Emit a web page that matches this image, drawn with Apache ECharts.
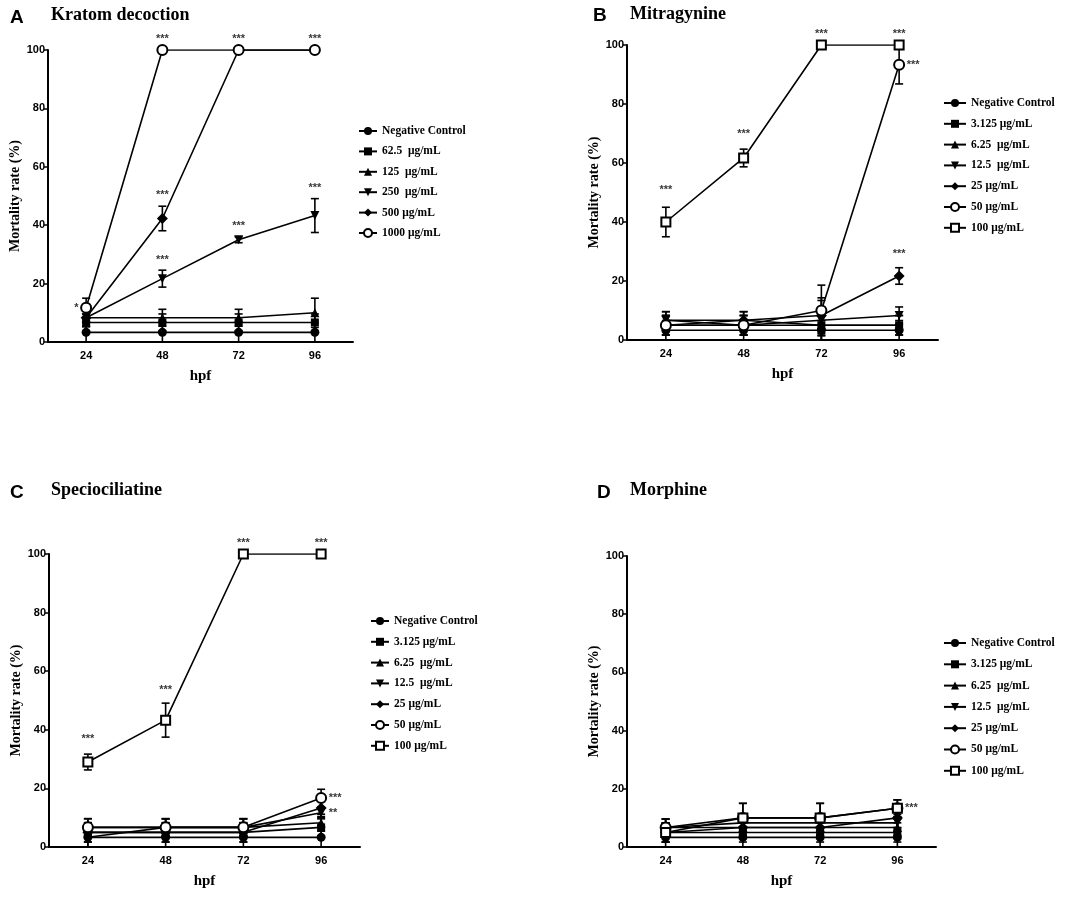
<!DOCTYPE html>
<html>
<head>
<meta charset="utf-8">
<script src="https://cdn.jsdelivr.net/npm/echarts@6/dist/echarts.min.js"></script>
<style>
html,body{margin:0;padding:0;background:#fff;}
#main{width:1065px;height:903px;}
</style>
</head>
<body>
<div id="main"></div>
<script>
var hours = ['24', '48', '72', '96'];
var yTicks = [0, 20, 40, 60, 80, 100];

// panel A - Kratom decoction
var namesA = ['Negative Control', '62.5  μg/mL', '125  μg/mL', '250  μg/mL', '500 μg/mL', '1000 μg/mL'];
var valsA = [
  [3.3, 3.3, 3.3, 3.3],
  [6.7, 6.7, 6.7, 6.7],
  [8.3, 8.3, 8.3, 10],
  [8.3, 21.7, 35, 43.3],
  [8.3, 42.3, 100, 100],
  [11.7, 100, 100, 100]
];
var errA = [
  [3.3, 3.3, 3.3, 3.3],
  [2.9, 2.9, 2.9, 2.9],
  [3, 2.9, 2.9, 5],
  [3, 2.9, 1, 5.8],
  [3, 4.2, 0, 0],
  [3.3, 0, 0, 0]
];
var starsA = [
  [0, 11.7, '*', 'left'], [1, 100, '***', 'top'], [2, 100, '***', 'top'], [3, 100, '***', 'top'],
  [1, 46.7, '***', 'top'], [1, 24.4, '***', 'top'], [2, 36, '***', 'top'], [3, 49, '***', 'top']
];

// panel B - Mitragynine
var namesB = ['Negative Control', '3.125 μg/mL', '6.25  μg/mL', '12.5  μg/mL', '25 μg/mL', '50 μg/mL', '100 μg/mL'];
var valsB = [
  [3.3, 3.3, 3.3, 3.3],
  [5, 5, 5, 5],
  [6.7, 6.7, 5, 5],
  [6.7, 5, 6.7, 8.3],
  [5, 6.7, 8.3, 21.7],
  [5, 5, 10, 93.3],
  [40, 61.7, 100, 100]
];
var errB = [
  [3.3, 3.3, 3.3, 3.3],
  [3.3, 3.3, 3.3, 3.3],
  [2.9, 2.9, 5, 3.3],
  [2.9, 3.3, 6.7, 2.9],
  [3.3, 2.9, 6, 2.8],
  [3.3, 3.3, 8.6, 6.5],
  [5, 3, 0, 0]
];
var starsB = [
  [0, 47, '***', 'top'], [1, 66, '***', 'top'], [2, 100, '***', 'top'], [3, 100, '***', 'top'],
  [3, 93.3, '***', 'right'], [3, 25.5, '***', 'top']
];

// panel C - Speciociliatine
var namesC = ['Negative Control', '3.125 μg/mL', '6.25  μg/mL', '12.5  μg/mL', '25 μg/mL', '50 μg/mL', '100 μg/mL'];
var valsC = [
  [3.3, 3.3, 3.3, 3.3],
  [5, 5, 5, 6.7],
  [6.7, 6.7, 6.7, 8.3],
  [3.3, 6.7, 6.7, 11.7],
  [5, 5, 5, 13.3],
  [6.7, 6.7, 6.7, 16.7],
  [29, 43.3, 100, 100]
];
var errC = [
  [3.3, 3.3, 3.3, 3.3],
  [3.3, 3.3, 3.3, 2.9],
  [2.9, 2.9, 2.9, 2.9],
  [3.3, 2.9, 2.9, 1.7],
  [3.3, 3.3, 3.3, 2.9],
  [3, 3, 3, 3],
  [2.7, 5.8, 0, 0]
];
var starsC = [
  [0, 33, '***', 'top'], [1, 50, '***', 'top'], [2, 100, '***', 'top'], [3, 100, '***', 'top'],
  [3, 16.7, '***', 'right'], [3, 11.7, '**', 'right']
];

// panel D - Morphine
var namesD = ['Negative Control', '3.125 μg/mL', '6.25  μg/mL', '12.5  μg/mL', '25 μg/mL', '50 μg/mL', '100 μg/mL'];
var valsD = [
  [3.3, 3.3, 3.3, 3.3],
  [5, 5, 5, 5],
  [6.7, 6.7, 6.7, 6.7],
  [6.7, 8.3, 8.3, 8.3],
  [5, 6.7, 6.7, 10],
  [6.7, 10, 10, 13.3],
  [5, 10, 10, 13.3]
];
var errD = [
  [3.3, 3.3, 3.3, 3.3],
  [3.3, 3.3, 3.3, 3.3],
  [2.9, 2.9, 2.9, 2.9],
  [2.9, 2.9, 2.9, 2.9],
  [3.3, 3.3, 3.3, 3.3],
  [2.9, 5, 5, 2.9],
  [3.3, 5, 5, 2.9]
];
var starsD = [
  [3, 13.3, '***', 'right']
];

var narrow = "'Liberation Sans Narrow', 'Liberation Sans', Arial, sans-serif";
var serif = "'Liberation Serif', 'Times New Roman', serif";

// marker styles: filled circle, square, triangle, down triangle, diamond, open circle, open square
var markers = [
  {symbol: 'circle', size: 9, rotate: 0, open: false},
  {symbol: 'rect', size: 8, rotate: 0, open: false},
  {symbol: 'triangle', size: 9, rotate: 0, open: false},
  {symbol: 'triangle', size: 9, rotate: 180, open: false},
  {symbol: 'diamond', size: 11, rotate: 0, open: false},
  {symbol: 'circle', size: 10, rotate: 0, open: true},
  {symbol: 'rect', size: 9, rotate: 0, open: true}
];

var panels = [
  {names: namesA, vals: valsA, err: errA, stars: starsA, mk: [0, 1, 2, 3, 4, 5],
   grid: {left: 48, top: 50, width: 305, height: 292}, legend: {left: 358, top: 125, gap: 8.4, w: 18}},
  {names: namesB, vals: valsB, err: errB, stars: starsB, mk: [0, 1, 2, 3, 4, 5, 6],
   grid: {left: 627, top: 45, width: 311, height: 295}, legend: {left: 943, top: 97, gap: 8.8, w: 22}},
  {names: namesC, vals: valsC, err: errC, stars: starsC, mk: [0, 1, 2, 3, 4, 5, 6],
   grid: {left: 49, top: 554, width: 311, height: 293}, legend: {left: 370, top: 615, gap: 8.8, w: 18}},
  {names: namesD, vals: valsD, err: errD, stars: starsD, mk: [0, 1, 2, 3, 4, 5, 6],
   grid: {left: 627, top: 556, width: 309, height: 291}, legend: {left: 943, top: 637, gap: 9.3, w: 22}}
];

var grids = [], xAxes = [], yAxes = [], legends = [], series = [];

panels.forEach(function (p, gi) {
  grids.push(p.grid);
  xAxes.push({
    type: 'category', gridIndex: gi, data: hours, boundaryGap: true,
    name: 'hpf', nameLocation: 'middle', nameGap: 27,
    nameTextStyle: {fontFamily: serif, fontWeight: 'bold', fontSize: 15, color: '#000'},
    axisLine: {lineStyle: {color: '#000', width: 2}},
    axisTick: {alignWithLabel: true, length: 4, lineStyle: {color: '#000', width: 1.5}},
    axisLabel: {fontFamily: narrow, fontWeight: 'bold', fontSize: 11, color: '#000', margin: 8},
    splitLine: {show: false}
  });
  yAxes.push({
    type: 'value', gridIndex: gi, min: 0, max: 100, interval: 20,
    name: 'Mortality rate (%)', nameLocation: 'middle', nameGap: 23,
    nameTextStyle: {fontFamily: serif, fontWeight: 'bold', fontSize: 14, color: '#000'},
    axisLine: {show: true, lineStyle: {color: '#000', width: 2}},
    axisTick: {show: true, length: 4, lineStyle: {color: '#000', width: 1.5}},
    axisLabel: {fontFamily: narrow, fontWeight: 'bold', fontSize: 11, color: '#000', margin: 3},
    splitLine: {show: false}
  });
  legends.push({
    orient: 'vertical', left: p.legend.left, top: p.legend.top, padding: 0,
    itemWidth: p.legend.w, itemHeight: 10, itemGap: p.legend.gap,
    data: p.names, selectedMode: false,
    textStyle: {fontFamily: serif, fontWeight: 'bold', fontSize: 11.5, color: '#000'}
  });

  p.names.forEach(function (nm, si) {
    var m = markers[p.mk[si]];
    // error bars
    series.push({
      type: 'custom', xAxisIndex: gi, yAxisIndex: gi, z: 2, silent: true,
      data: p.vals[si].map(function (v, i) {
        return [i, Math.max(0, v - p.err[si][i]), Math.min(100, v + p.err[si][i])];
      }),
      renderItem: function (params, api) {
        var lo = api.coord([api.value(0), api.value(1)]);
        var hi = api.coord([api.value(0), api.value(2)]);
        var st = {stroke: '#000', lineWidth: 1.6};
        if (hi[1] === lo[1]) return;
        return {type: 'group', children: [
          {type: 'line', shape: {x1: lo[0], y1: lo[1], x2: hi[0], y2: hi[1]}, style: st},
          {type: 'line', shape: {x1: hi[0] - 4, y1: hi[1], x2: hi[0] + 4, y2: hi[1]}, style: st},
          {type: 'line', shape: {x1: lo[0] - 4, y1: lo[1], x2: lo[0] + 4, y2: lo[1]}, style: st}
        ]};
      }
    });
    series.push({
      type: 'line', name: nm, xAxisIndex: gi, yAxisIndex: gi, z: 3 + si,
      data: p.vals[si],
      symbol: m.symbol, symbolSize: m.size, symbolRotate: m.rotate, showAllSymbol: true,
      lineStyle: {color: '#000', width: 1.6},
      itemStyle: {color: m.open ? '#fff' : '#000', borderColor: '#000', borderWidth: m.open ? 2 : 0},
      emphasis: {disabled: true},
      animation: false
    });
  });

  series.push({
    type: 'scatter', xAxisIndex: gi, yAxisIndex: gi, z: 20, symbolSize: 1,
    itemStyle: {color: 'rgba(0,0,0,0)'}, silent: true,
    data: p.stars.map(function (s) {
      return {value: [s[0], s[1]], label: {show: true, position: s[3], formatter: s[2],
        distance: s[3] === 'top' ? 5 : 7}};
    }),
    label: {fontFamily: narrow, fontWeight: 'bold', fontSize: 11, color: '#000'}
  });
});

var titleText = [
  ['A', 10, 8, 'sans'], ['Kratom decoction', 51, 6, 'serif'],
  ['B', 593, 6, 'sans'], ['Mitragynine', 630, 5, 'serif'],
  ['C', 10, 483, 'sans'], ['Speciociliatine', 51, 481, 'serif'],
  ['D', 597, 483, 'sans'], ['Morphine', 630, 481, 'serif']
];

var chart = echarts.init(document.getElementById('main'));
chart.setOption({
  animation: false,
  backgroundColor: '#fff',
  title: titleText.map(function (t) {
    return {text: t[0], left: t[1], top: t[2], padding: 0,
      textStyle: t[3] === 'sans'
        ? {fontFamily: "'Liberation Sans', Arial, sans-serif", fontWeight: 'bold', fontSize: 19, color: '#000'}
        : {fontFamily: serif, fontWeight: 'bold', fontSize: 18, color: '#000'}};
  }),
  grid: grids,
  xAxis: xAxes,
  yAxis: yAxes,
  legend: legends,
  series: series
});
</script>
</body>
</html>
